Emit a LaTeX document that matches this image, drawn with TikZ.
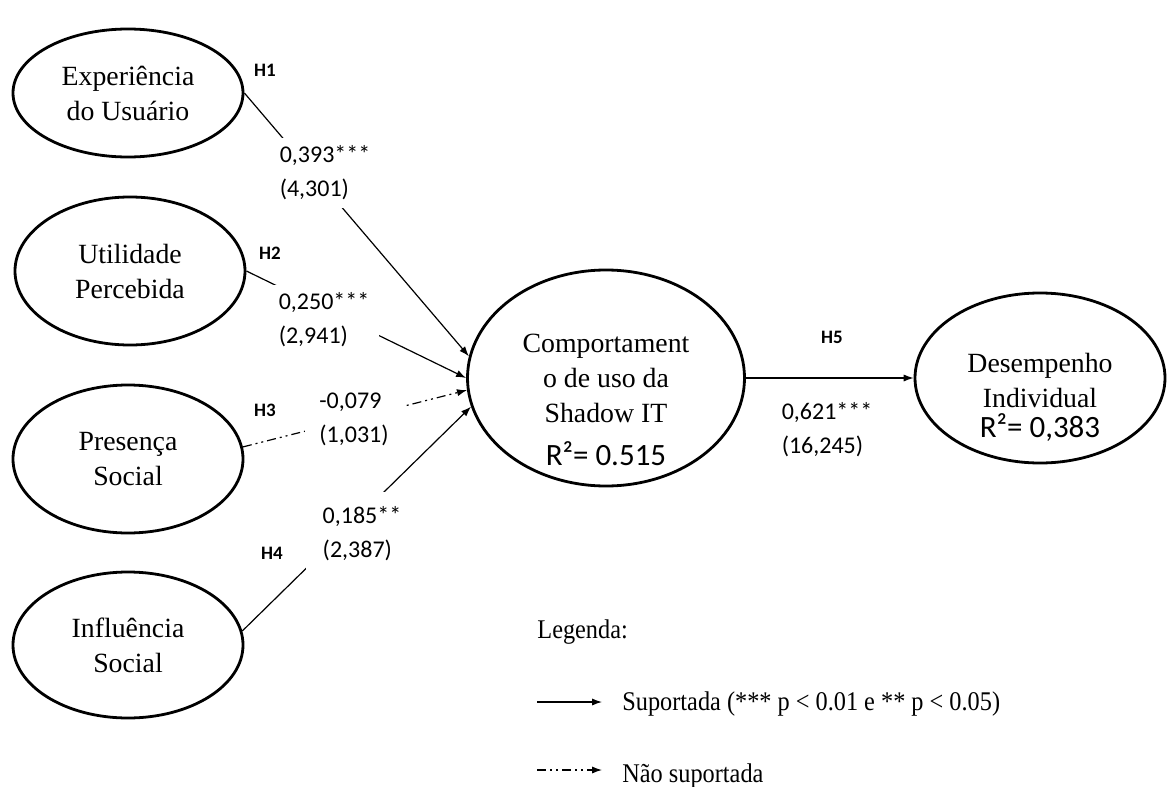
\documentclass[tikz,border=0pt]{standalone}
\usepackage{fontspec}
\setmainfont{Liberation Serif}
\newfontfamily\calib{Carlito}
\newfontfamily\legfont[FakeStretch=0.9]{Liberation Serif}
\usetikzlibrary{arrows.meta,shapes.geometric}
\newcommand{\rsq}[1]{{\calib\fontsize{15.5}{18}\selectfont #1}}
\tikzset{
  latent/.style={draw,ellipse,line width=1.4pt,inner sep=0pt,align=center,font=\fontsize{13.9}{17.5}\selectfont},
  inner/.style={align=center,font=\fontsize{13.9}{17.5}\selectfont},
  hyp/.style={line width=0.6pt,-{Latex[length=5pt,width=3.6pt]}},
  nohyp/.style={hyp,dash pattern=on 4.5pt off 2pt on 1pt off 2pt on 1pt off 2pt},
  coef/.style={fill=white,align=left,inner sep=3pt,font=\calib\fontsize{12}{17}\selectfont},
  hlab/.style={font=\calib\bfseries\fontsize{9.5}{11}\selectfont},
  legtext/.style={anchor=base west,inner sep=0pt,font=\legfont\fontsize{13.5}{16}\selectfont}
}
\begin{document}
\begin{tikzpicture}[x=0.5pt,y=-0.5pt]
\useasboundingbox (0,0) rectangle (1168,787);
% constructs
\node[latent,minimum width=115pt,minimum height=64pt] (exp) at (128,93) {Experiência\\do Usuário};
\node[latent,minimum width=115pt,minimum height=74pt] (util) at (130,271) {Utilidade\\Percebida};
\node[latent,minimum width=115pt,minimum height=74pt] (pres) at (128,459) {Presença\\Social};
\node[latent,minimum width=115pt,minimum height=73pt] (infl) at (128,645) {Influência\\Social};
\node[latent,minimum width=138.5pt,minimum height=108pt] (comp) at (606,378) {};
\node[latent,minimum width=125pt,minimum height=85pt] (des) at (1040,378) {};
\node[inner] (compt) at (606,400) {Comportament\\o de uso da\\Shadow IT\\[4pt]\rsq{R²= 0.515}};
\node[inner] (dest) at (1040,397) {Desempenho\\Individual\\[-2.5pt]\rsq{R²= 0,383}};
% paths
\draw[hyp] (exp.east) -- (comp.171);
\draw[hyp] (util.east) -- (comp.180);
\draw[nohyp] (pres.6) -- (comp.185);
\draw[hyp] (infl.7) -- (comp.192);
\draw[hyp] (comp.east) -- (des.west);
% coefficients
\node[coef,inner xsep=3pt,inner ysep=4pt] (c1) at (325,173) {0,393***\\(4,301)};
\node[coef,inner xsep=5pt,inner ysep=4pt] (c2) at (324,320) {0,250***\\(2,941)};
\node[coef,inner xsep=7pt] (c3) at (354,419) {-0,079\\(1,031)};
\node[coef,inner xsep=8.5pt,inner ysep=7.5pt] (c4) at (362,534) {0,185**\\(2,387)};
\node[coef,fill=none] (c5) at (827,430) {0,621***\\(16,245)};
\node[hlab] (h1) at (265,70) {H1};
\node[hlab] (h2) at (270,253) {H2};
\node[hlab] (h3) at (265,410) {H3};
\node[hlab] (h4) at (272,553) {H4};
\node[hlab] (h5) at (832,337) {H5};
% legend
\node[legtext] (leg) at (537,638) {Legenda:};
\coordinate (s1) at (537,702);
\coordinate (s2) at (602,702);
\draw[hyp] (s1) -- (s2);
\node[legtext] (sup) at (622,710) {Suportada (*** p < 0.01 e ** p < 0.05)};
\coordinate (n1) at (537,770);
\coordinate (n2) at (602,770);
\draw[nohyp] (n1) -- (n2);
\node[legtext] (nsup) at (622,782) {Não suportada};
\end{tikzpicture}
\end{document}
